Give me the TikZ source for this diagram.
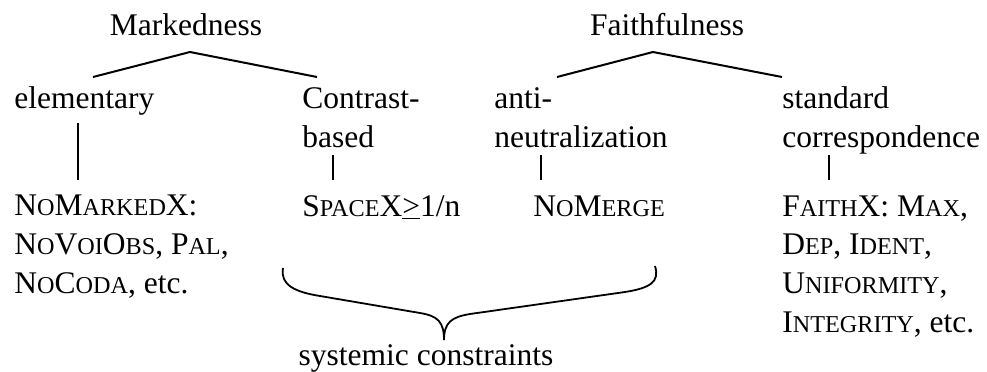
\documentclass[tikz,border=0pt]{standalone}
\usepackage{fontspec}
\setmainfont{Liberation Serif}
\usetikzlibrary{positioning}
% fake small capitals, as the reference sets them
\newcommand{\smc}[1]{{\fontsize{12.1}{19.3}\selectfont #1}}
\tikzset{
  x=0.5pt, y=-0.5pt,
  every node/.style={inner sep=0pt, font=\fontsize{15.75}{19.3}\selectfont},
  lbl/.style={anchor=base west, align=left},
  head/.style={anchor=base},
  branch/.style={line width=1pt},
  stem/.style={line width=0.8pt},
  brace/.style={line width=0.9pt}
}
\begin{document}
\begin{tikzpicture}
  \useasboundingbox (0,0) rectangle (987,371);

  % category heads
  \node[head] (mark) at (186,35) {Markedness};
  \node[head] (faith) at (667,35) {Faithfulness};

  % subtypes (base = last line)
  \node[lbl] (elem) at (14,108) {elementary};
  \node[lbl] (contr) at (302,147) {Contrast-\\based};
  \node[lbl] (anti) at (494,147) {anti-\\neutralization};
  \node[lbl] (stand) at (782,147) {standard\\correspondence};

  % constraint families
  \node[lbl] (nomark) at (14,293) {N\smc{O}M\smc{ARKED}X:\\N\smc{O}V\smc{OI}O\smc{BS}, P\smc{AL},\\N\smc{O}C\smc{ODA}, etc.};
  \node[lbl] (space) at (302,216) {S\smc{PACE}X\underline{>}1/n};
  \node[lbl] (nomerge) at (533,216) {N\smc{O}M\smc{ERGE}};
  \node[lbl] (faithx) at (782,332) {F\smc{AITH}X: M\smc{AX},\\D\smc{EP}, I\smc{DENT},\\U\smc{NIFORMITY},\\I\smc{NTEGRITY}, etc.};

  \node[head] (sys) at (426,365) {systemic constraints};

  % tree branches
  \coordinate (mark-top) at (190,52);
  \coordinate (faith-top) at (653,52);
  \draw[branch] (93,77) -- (mark-top) -- (317,77);
  \draw[branch] (557,77) -- (faith-top) -- (782,77);

  % stems
  \draw[stem] (78,123) -- (78,180);
  \draw[stem] (333,155) -- (333,180);
  \draw[stem] (541,155) -- (541,180);
  \draw[stem] (829,155) -- (829,180);

  % brace over the systemic constraints
  \coordinate (tip) at (444,340);
  \draw[brace] (283,268) .. controls (280,285) and (295,292) .. (320,296)
    -- (420,313) .. controls (438,316) and (444,322) .. (tip)
    .. controls (444,322) and (452,317) .. (470,314)
    -- (625,292) .. controls (650,288) and (660,282) .. (655,266);
\end{tikzpicture}
\end{document}
